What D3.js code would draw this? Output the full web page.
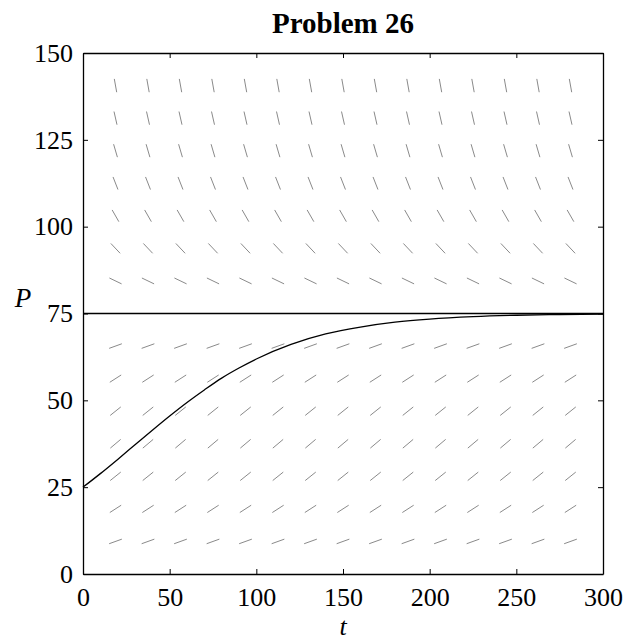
<!DOCTYPE html>
<html>
<head>
<meta charset="utf-8">
<script src="https://cdn.jsdelivr.net/npm/d3@7"></script>
<style>
  body { margin: 0; background: #fff; }
  text { font-family: "Liberation Serif", "Times New Roman", serif; }
</style>
</head>
<body>
<div class="slope-field"></div>
<script>
// grid of the direction field (t columns, P rows)
var tCols = [18.75, 37.5, 56.25, 75, 93.75, 112.5, 131.25, 150, 168.75, 187.5, 206.25, 225, 243.75, 262.5, 281.25];
var pRows = [9.375, 18.75, 28.125, 37.5, 46.875, 56.25, 65.625, 75, 84.375, 93.75, 103.125, 112.5, 121.875, 131.25, 140.625];
// dP/dt
var rowSlopes = [0.18, 0.32, 0.40, 0.42, 0.40, 0.32, 0.18, 0, -0.24, -0.53, -0.87, -1.27, -1.71, -2.21, -2.77];

// solution curve through P(0) = 25
var solT = [0, 10, 20, 30, 40, 50, 60, 70, 80, 90, 100, 120, 140, 160, 180, 200, 225, 250, 275, 300];
var solP = [25, 28.9, 33.0, 37.2, 41.4, 45.5, 49.4, 53.0, 56.4, 59.3, 61.9, 66.1, 69.1, 71.1, 72.5, 73.4, 74.1, 74.5, 74.7, 74.8];

// equilibrium line
var equilibrium = 75;

var xTicks = [0, 50, 100, 150, 200, 250, 300];
var yTicks = [0, 25, 50, 75, 100, 125, 150];

var margin = {top: 53, right: 23, bottom: 62, left: 83},
    width = 626 - margin.left - margin.right,
    height = 636 - margin.top - margin.bottom;

var svg = d3.select(".slope-field").append("svg")
    .attr("width", width + margin.left + margin.right)
    .attr("height", height + margin.top + margin.bottom)
    .append("g")
    .attr("transform", "translate(" + margin.left + "," + margin.top + ")");

var x = d3.scaleLinear().domain([0, 300]).range([0, width]);
var y = d3.scaleLinear().domain([0, 150]).range([height, 0]);

// direction segments, fixed length on screen
var segLen = 13.5;
var kx = x(1) - x(0), ky = y(0) - y(1);
var segs = [];
pRows.forEach(function(p, i) {
  tCols.forEach(function(t) {
    var dx = kx, dy = rowSlopes[i] * ky;
    var n = Math.sqrt(dx * dx + dy * dy);
    var hx = dx / n * segLen / 2, hy = dy / n * segLen / 2;
    segs.push({x1: x(t) - hx, y1: y(p) + hy, x2: x(t) + hx, y2: y(p) - hy});
  });
});

svg.append("g").selectAll("line")
    .data(segs)
    .enter().append("line")
    .attr("x1", function(d) { return d.x1; })
    .attr("y1", function(d) { return d.y1; })
    .attr("x2", function(d) { return d.x2; })
    .attr("y2", function(d) { return d.y2; })
    .attr("stroke", "#8a8a8a")
    .attr("stroke-width", 1);

// equilibrium
svg.append("line")
    .attr("x1", x(0)).attr("x2", x(300))
    .attr("y1", y(equilibrium)).attr("y2", y(equilibrium))
    .attr("stroke", "#000")
    .attr("stroke-width", 1.3);

// solution
var line = d3.line()
    .x(function(d, i) { return x(solT[i]); })
    .y(function(d) { return y(d); })
    .curve(d3.curveMonotoneX);

svg.append("path")
    .datum(solP)
    .attr("d", line)
    .attr("fill", "none")
    .attr("stroke", "#000")
    .attr("stroke-width", 1.3);

// axes, ticks pointing inward on all four sides
function styleAxis(g) {
  g.attr("font-family", null).attr("font-size", null);
  g.selectAll("path").attr("stroke", "#000").attr("stroke-width", 1.3);
  g.selectAll("line").attr("stroke", "#000").attr("stroke-width", 1);
  g.selectAll("text").style("font-size", "26px").attr("fill", "#000");
}

svg.append("g")
    .attr("transform", "translate(0," + height + ")")
    .call(d3.axisBottom(x).tickValues(xTicks).tickSizeInner(-5).tickSizeOuter(0).tickPadding(14))
    .call(styleAxis);

svg.append("g")
    .call(d3.axisLeft(y).tickValues(yTicks).tickSizeInner(-5).tickSizeOuter(0).tickPadding(10))
    .call(styleAxis);

svg.append("g")
    .call(d3.axisTop(x).tickValues(xTicks).tickSizeInner(-5).tickSizeOuter(0).tickFormat(""))
    .call(styleAxis);

svg.append("g")
    .attr("transform", "translate(" + width + ",0)")
    .call(d3.axisRight(y).tickValues(yTicks).tickSizeInner(-5).tickSizeOuter(0).tickFormat(""))
    .call(styleAxis);

// labels
svg.append("text")
   .attr("x", width / 2)
   .attr("y", -20)
   .attr("text-anchor", "middle")
   .style("font-size", "29px")
   .style("font-weight", "bold")
   .text("Problem 26");

svg.append("text")
   .attr("x", width / 2)
   .attr("y", height + 61)
   .attr("text-anchor", "middle")
   .style("font-size", "26px")
   .style("font-style", "italic")
   .text("t");

svg.append("text")
   .attr("x", -60)
   .attr("y", y(equilibrium) - 7)
   .attr("text-anchor", "middle")
   .style("font-size", "27px")
   .style("font-style", "italic")
   .text("P");
</script>
</body>
</html>
